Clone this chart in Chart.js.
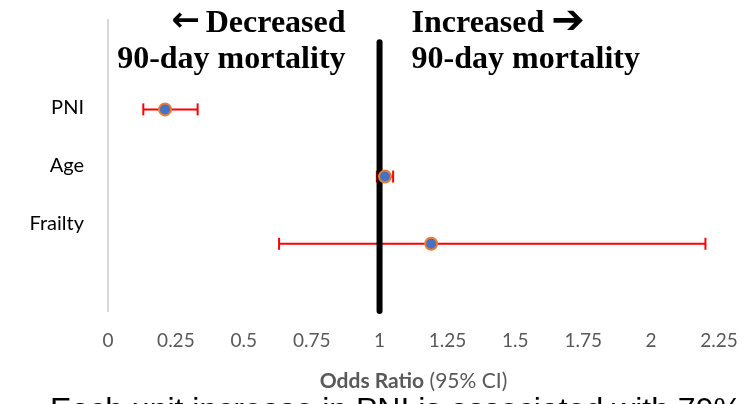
<!DOCTYPE html>
<html><head><meta charset="utf-8">
<script src="https://cdn.jsdelivr.net/npm/chart.js@4.4.1/dist/chart.umd.min.js"></script>
<style>html,body{margin:0;padding:0;background:#fff;}canvas{display:block;}</style>
</head><body>
<canvas id="c" width="755" height="404"></canvas>
<script>
// ---- data ----
const categories = ['PNI', 'Age', 'Frailty'];
const oddsRatio = [0.21, 1.02, 1.19];
const ciLower = [0.13, 0.99, 0.63];
const ciUpper = [0.33, 1.05, 2.20];
const xTicks = [0, 0.25, 0.5, 0.75, 1, 1.25, 1.5, 1.75, 2, 2.25];
const referenceOR = 1;
const leftArrow = '\u2190', leftWord = 'Decreased';
const rightWord = 'Increased', rightArrow = '\u2794';
const headingLine2 = '90-day mortality';
const xTitleBold = 'Odds Ratio';
const xTitleRest = ' (95% CI)';
const footnote = 'Each unit increase in PNI is associated with 79%';

// row value on hidden value axis (top row = highest)
const rowVal = i => categories.length - i;

const errorBarSets = categories.map((c, i) => ({
  type: 'line',
  label: c + ' CI',
  data: [{x: ciLower[i], y: rowVal(i)}, {x: ciUpper[i], y: rowVal(i)}],
  borderColor: '#FF0000',
  borderWidth: 2,
  pointStyle: 'line',
  pointRotation: 90,
  pointRadius: 6,
  pointHoverRadius: 6,
  pointBorderColor: '#FF0000',
  pointBorderWidth: 2,
  order: 3,
  xAxisID: 'x', yAxisID: 'yv',
  clip: false
}));

const refLine = {
  type: 'line',
  label: 'OR = 1',
  data: [{x: referenceOR, y: 0}, {x: referenceOR, y: categories.length + 1}],
  borderColor: '#000000',
  borderWidth: 6,
  borderCapStyle: 'round',
  pointRadius: 0,
  order: 2,
  xAxisID: 'x', yAxisID: 'yv',
  clip: false
};

const pointSet = {
  type: 'scatter',
  label: 'Odds Ratio',
  data: categories.map((c, i) => ({x: oddsRatio[i], y: rowVal(i)})),
  pointRadius: 6,
  pointHoverRadius: 6,
  backgroundColor: '#4472C4',
  borderColor: '#ED7D31',
  borderWidth: 2,
  order: 1,
  xAxisID: 'x', yAxisID: 'yv',
  clip: false
};

const annot = {
  id: 'annot',
  afterDraw(chart) {
    const {ctx, chartArea} = chart;
    const x = chart.scales.x;
    const refX = x.getPixelForValue(referenceOR);
    const serif = 'bold 32px "Liberation Serif"';
    const b1 = 32, b2 = 68;
    ctx.save();
    ctx.fillStyle = '#000';
    ctx.textBaseline = 'alphabetic';
    // left block (right aligned)
    const lEdge = refX - 34;
    ctx.font = serif;
    ctx.textAlign = 'right';
    ctx.fillText(leftWord, lEdge, b1);
    ctx.fillText(headingLine2, lEdge, b2);
    const wWord = ctx.measureText(leftWord).width;
    const sp = ctx.measureText(' ').width;
    ctx.font = 'bold 34px "DejaVu Sans"';
    ctx.fillText(leftArrow, lEdge - wWord - sp + 2, b1 - 1);
    // right block (left aligned)
    const rEdge = refX + 32;
    ctx.textAlign = 'left';
    ctx.font = serif;
    ctx.fillText(rightWord, rEdge, b1);
    ctx.fillText(headingLine2, rEdge, b2);
    const wWord2 = ctx.measureText(rightWord).width;
    ctx.font = 'bold 40px "DejaVu Sans"';
    ctx.fillText(rightArrow, rEdge + wWord2 + sp - 1, b1 + 1);

    // x-axis title (mixed weight)
    ctx.fillStyle = '#595959';
    ctx.textBaseline = 'middle';
    ctx.font = 'bold 21px Lato';
    const w1 = ctx.measureText(xTitleBold).width;
    ctx.font = '21px Lato';
    const w2 = ctx.measureText(xTitleRest).width;
    const cx = (chartArea.left + chartArea.right) / 2;
    const sx = cx - (w1 + w2) / 2;
    ctx.font = 'bold 21px Lato';
    ctx.fillText(xTitleBold, sx, 381);
    ctx.font = '21px Lato';
    ctx.fillText(xTitleRest, sx + w1, 381);

    // cut-off footnote text at the bottom
    ctx.fillStyle = '#000';
    ctx.textBaseline = 'alphabetic';
    ctx.font = '32px "Liberation Sans"';
    ctx.fillText(footnote, 50, 420);
    ctx.restore();
  }
};

function build() {
  new Chart(document.getElementById('c'), {
    data: { datasets: [...errorBarSets, refLine, pointSet] },
    options: {
      responsive: false,
      animation: false,
      events: [],
      devicePixelRatio: 1,
      layout: { padding: { left: 0, right: 36, top: 20, bottom: 0 } },
      plugins: { legend: { display: false }, tooltip: { enabled: false } },
      scales: {
        x: {
          type: 'linear', position: 'bottom', min: 0, max: 2.25,
          afterBuildTicks: s => { s.ticks = xTicks.map(v => ({value: v})); },
          afterFit: s => { s.height = 93; s.paddingLeft = 0; s.paddingRight = 0; },
          grid: { display: false, drawTicks: false },
          border: { display: false },
          ticks: { color: '#595959', font: { family: 'Lato', size: 19 }, padding: 18,
                   maxRotation: 0, autoSkip: false, callback: v => String(v) }
        },
        y: {
          type: 'category', position: 'left',
          labels: ['', ...categories, ''], offset: true,
          afterFit: s => { s.width = 108; s.paddingTop = 0; s.paddingBottom = 0; },
          grid: { display: false, drawTicks: false },
          border: { display: true, color: '#D9D9D9', width: 2 },
          ticks: { color: '#000', font: { family: 'Lato', size: 20 }, padding: 24, autoSkip: false }
        },
        yv: { type: 'linear', display: false, min: 0, max: 4.33 }
      }
    },
    plugins: [annot]
  });
}
Promise.all([
  document.fonts.load('20px Lato'), document.fonts.load('bold 21px Lato'),
  document.fonts.load('bold 32px "Liberation Serif"'), document.fonts.load('32px "Liberation Sans"'),
  document.fonts.load('bold 40px "DejaVu Sans"')
]).then(build, build);
</script>
</body></html>
